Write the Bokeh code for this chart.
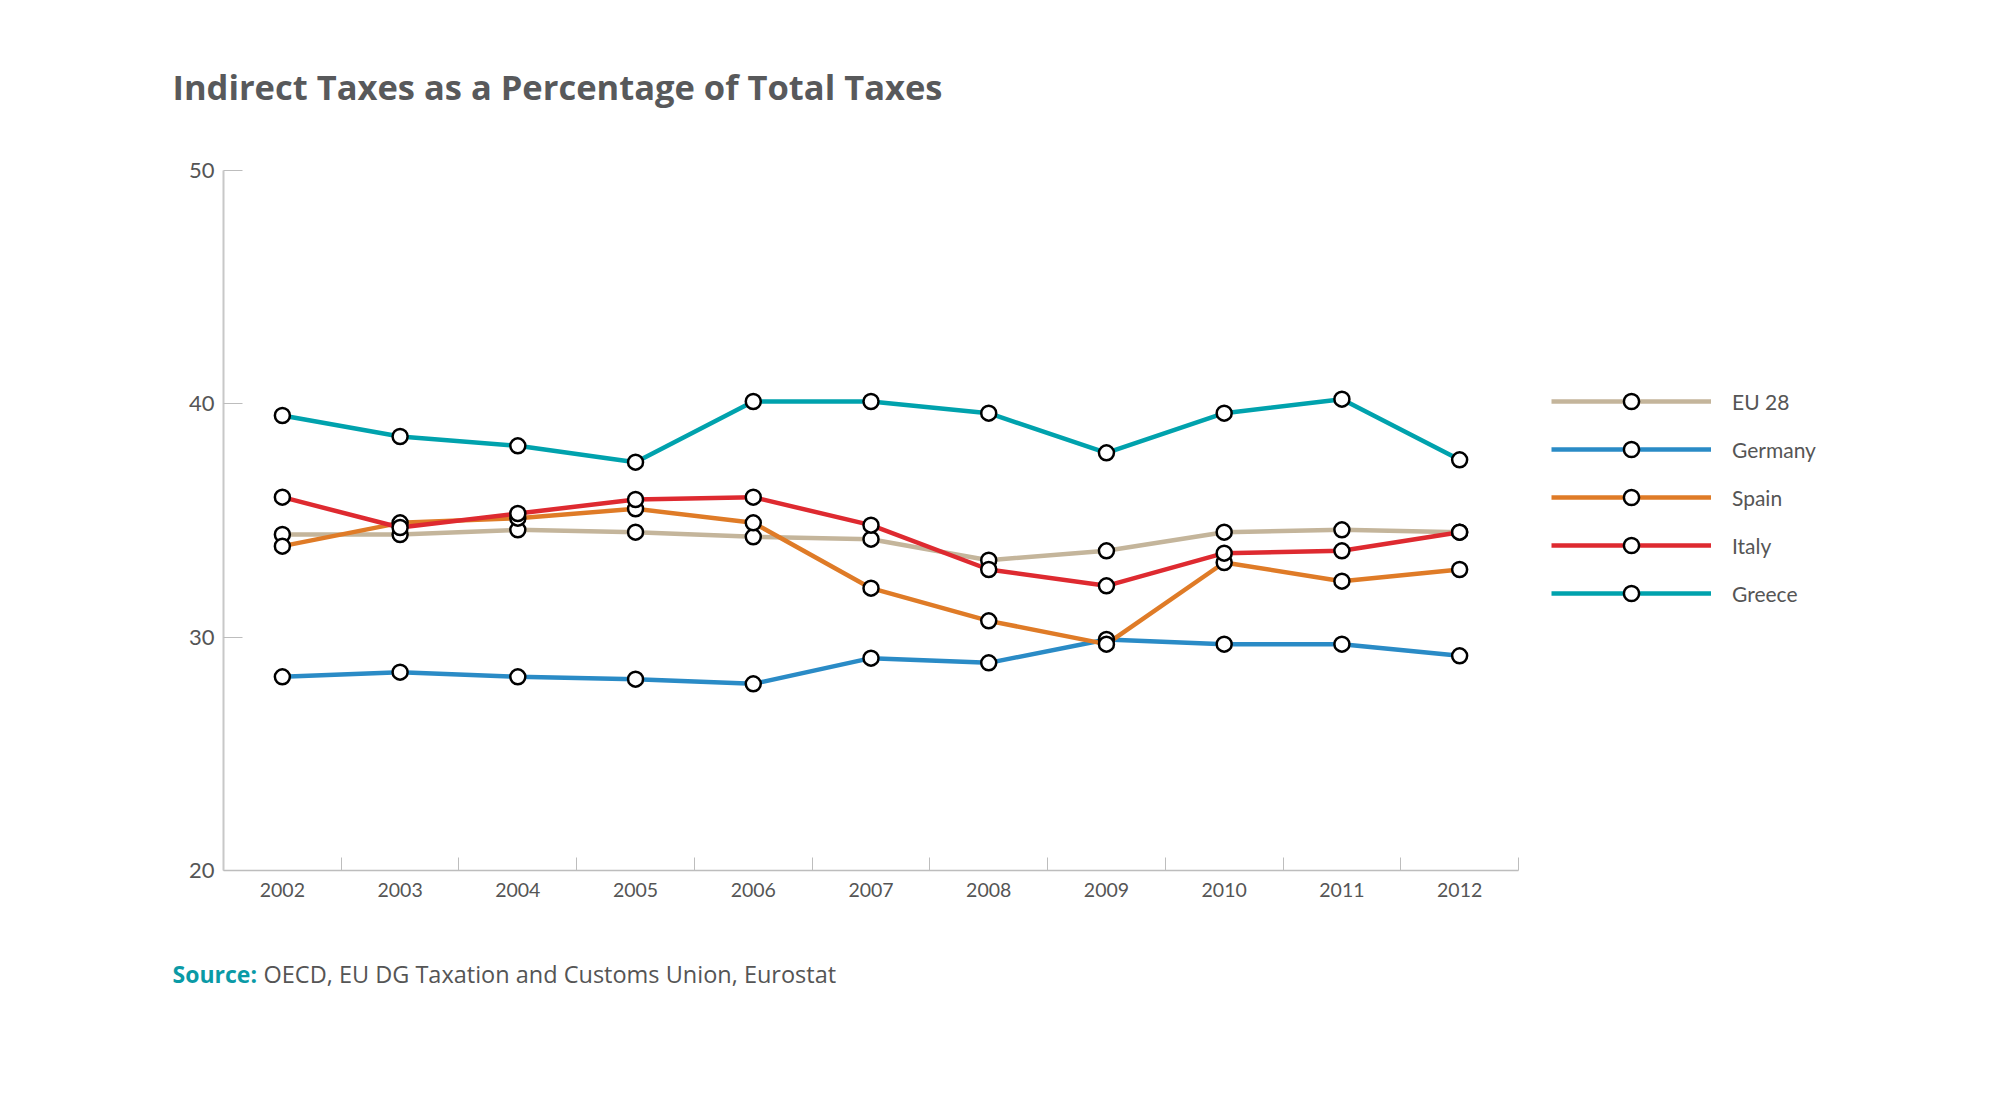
from bokeh.plotting import figure
from bokeh.models import Label, Legend, LegendItem, FixedTicker, Range1d
from bokeh.embed import file_html
from bokeh.resources import INLINE

years = [2002, 2003, 2004, 2005, 2006, 2007, 2008, 2009, 2010, 2011, 2012]
eu28 = [34.4, 34.4, 34.6, 34.5, 34.3, 34.2, 33.3, 33.7, 34.5, 34.6, 34.5]
germany = [28.3, 28.5, 28.3, 28.2, 28.0, 29.1, 28.9, 29.9, 29.7, 29.7, 29.2]
spain = [33.9, 34.9, 35.1, 35.5, 34.9, 32.1, 30.7, 29.7, 33.2, 32.4, 32.9]
italy = [36.0, 34.7, 35.3, 35.9, 36.0, 34.8, 32.9, 32.2, 33.6, 33.7, 34.5]
greece = [39.5, 38.6, 38.2, 37.5, 40.1, 40.1, 39.6, 37.9, 39.6, 40.2, 37.6]
series_names = ["EU 28", "Germany", "Spain", "Italy", "Greece"]
series_values = [eu28, germany, spain, italy, greece]
series_colors = ["#c4b59b", "#2a8bc6", "#df7b27", "#de2a30", "#00a2ad"]
y_ticks = [20, 30, 40, 50]
title_text = "Indirect Taxes as a Percentage of Total Taxes"
source_head = "Source:"
source_text = "OECD, EU DG Taxation and Customs Union, Eurostat"

# canvas / layout geometry (pixels)
W, H = 1984, 1085
X_LEFT_PX, X_RIGHT_PX = 223, 1518      # plot area horizontal extent
Y_TOP_PX, Y_BOT_PX = 170, 870          # plot area vertical extent
x0, x1 = years[0] - 0.5, years[-1] + 0.5
y0, y1 = y_ticks[0], y_ticks[-1]
xs = (x1 - x0) / (X_RIGHT_PX - X_LEFT_PX)
ys = (y1 - y0) / (Y_BOT_PX - Y_TOP_PX)
x_range = Range1d(x0 - X_LEFT_PX * xs, x1 + (W - X_RIGHT_PX) * xs)
y_range = Range1d(y0 - (H - Y_BOT_PX) * ys, y1 + Y_TOP_PX * ys)

p = figure(width=W, height=H, x_range=x_range, y_range=y_range,
           output_backend="svg", toolbar_location=None, min_border=0)
p.outline_line_color = None
p.xgrid.visible = False
p.ygrid.visible = False
p.background_fill_color = "white"
p.border_fill_color = "white"

# x axis
xa = p.xaxis[0]
xa.fixed_location = y0
xa.bounds = (x0, x1)
xa.ticker = FixedTicker(ticks=years, minor_ticks=[y + 0.5 for y in years])
xa.major_tick_line_color = None
xa.minor_tick_in = 13
xa.minor_tick_out = 0
xa.minor_tick_line_color = "#bdbdbd"
xa.minor_tick_line_width = 1
xa.axis_line_color = "#bdbdbd"
xa.axis_line_width = 1.5
xa.major_label_text_font = "Lato"
xa.major_label_text_font_size = "19.5px"
xa.major_label_text_color = "#555555"
xa.major_label_standoff = 6

# y axis
ya = p.yaxis[0]
ya.fixed_location = x0
ya.bounds = (y0, y1)
ya.ticker = FixedTicker(ticks=y_ticks, minor_ticks=[])
ya.major_tick_in = 19
ya.major_tick_out = 0
ya.major_tick_line_color = "#bdbdbd"
ya.minor_tick_line_color = None
ya.axis_line_color = "#c8c8c8"
ya.axis_line_width = 2
ya.major_label_text_font = "Lato"
ya.major_label_text_font_size = "22px"
ya.major_label_text_color = "#555555"
ya.major_label_standoff = 9

line_rs = []
for name, vals, col in zip(series_names, series_values, series_colors):
    lr = p.line(years, vals, line_color=col, line_width=4.5)
    line_rs.append(lr)
mark_rs = []
for name, vals, col in zip(series_names, series_values, series_colors):
    mr = p.scatter(years, vals, marker="circle", size=15, fill_color="white",
                   line_color="black", line_width=2.5)
    mark_rs.append(mr)

items = [LegendItem(label=n, renderers=[l, m]) for n, l, m in zip(series_names, line_rs, mark_rs)]
legend = Legend(items=items, location=(1551, 473), orientation="vertical",
                glyph_width=160, glyph_height=38, label_height=38, spacing=10,
                padding=0, margin=0, label_standoff=21,
                label_text_font="Lato", label_text_font_size="21px",
                label_text_color="#555555",
                border_line_color=None, background_fill_alpha=0)
p.add_layout(legend, "center")

p.add_layout(Label(x=172, y=H - 86, x_units="screen", y_units="screen", text=title_text,
                   text_font="Open Sans", text_font_style="bold", text_font_size="34.5px",
                   text_color="#58595b", text_baseline="alphabetic"))
p.add_layout(Label(x=172, y=H - 973, x_units="screen", y_units="screen", text=source_head,
                   text_font="Open Sans", text_font_style="bold", text_font_size="23px",
                   text_color="#0a9aa6", text_baseline="alphabetic"))
p.add_layout(Label(x=263, y=H - 973, x_units="screen", y_units="screen", text=source_text,
                   text_font="Open Sans", text_font_size="23.5px",
                   text_color="#555555", text_baseline="alphabetic"))

open("out.html", "w").write(file_html(p, INLINE))
